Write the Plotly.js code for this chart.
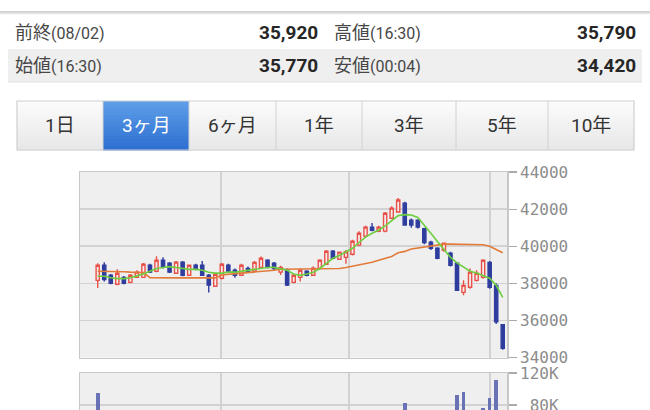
<!DOCTYPE html>
<html><head><meta charset="utf-8">
<script src="https://cdn.plot.ly/plotly-3.0.1.min.js"></script>
<style>
html,body{margin:0;padding:0;background:#fff;overflow:hidden;width:650px;height:410px}
#wrap{width:650px;height:410px;overflow:hidden;position:relative}
#chart{width:650px;height:480px}
</style>
</head><body><div id="wrap"><div id="chart"></div></div>
<script>
// ---- data (3-month daily candles, Nikkei futures) ----
const openP  = [38160,38970,38430,37950,38320,38050,38320,38320,38970,38650,39240,39080,38540,39140,38430,38970,38970,38430,37840,38270,38970,38700,38430,38800,38650,38860,39240,39080,38600,38700,38050,38320,38650,38430,38810,39030,39730,39300,39400,39570,40060,40540,41030,40800,40810,41510,41840,42320,41400,41400,40950,40220,39890,39780,39620,39080,37510,37790,38160,38320,39130,37890,35770];
const highP  = [39080,39130,38500,38760,38400,38500,38700,39100,39050,39460,39400,39150,39200,39200,39000,39050,39200,38500,38550,39100,39050,38800,39050,38900,39200,39450,39300,39150,38950,38800,38500,38800,38700,38900,39300,39800,39800,39700,39800,40350,40800,41100,41250,41100,41850,42150,42600,42400,41500,41450,41000,40300,39950,40200,39700,39150,38160,38800,38700,39300,39200,38000,35790];
const lowP   = [37750,38100,37950,37900,37950,38000,38280,38300,38550,38600,38800,38550,38500,38380,38400,38700,38400,37510,37800,38200,38550,38300,38400,38550,38600,38800,38800,38700,38450,37850,38000,38100,38380,38400,38750,39000,39300,39250,39050,39500,40000,40500,40800,40750,40750,41450,41800,41100,41000,40950,40100,39800,39300,39700,38900,37600,37350,37700,38100,38250,37700,35800,34420];
const closeP = [38970,38200,38000,38540,38000,38430,38600,39030,38600,39240,38860,38600,39140,38430,38970,38760,38430,37900,38490,39030,38600,38430,38970,38600,39130,39350,38860,38800,38860,37900,38430,38700,38430,38810,39240,39730,39350,39680,39700,40270,40700,41030,40860,41030,41780,42050,42490,41140,41140,41030,40200,39890,39350,40160,38970,37620,37890,38600,38540,39240,37790,35920,34500];
const maShort = [38380,38380,38300,38250,38250,38300,38400,38500,38650,38800,38850,38900,38850,38800,38750,38750,38700,38600,38550,38550,38600,38600,38650,38700,38750,38800,38850,38860,38800,38700,38500,38430,38500,38600,38800,39100,39350,39500,39700,39890,40200,40490,40700,40860,41100,41400,41650,41700,41680,41550,41140,40700,40250,39850,39400,39100,38860,38650,38550,38430,38270,37890,37240];
const maLong  = [38650,38650,38650,38640,38620,38600,38600,38580,38300,38290,38290,38290,38290,38290,38290,38290,38290,38290,38290,38450,38500,38520,38550,38580,38600,38620,38650,38700,38760,38760,38760,38760,38760,38760,38770,38780,38790,38800,38850,38920,39000,39030,39130,39240,39330,39450,39650,39720,39850,39900,39950,40000,40080,40110,40110,40110,40080,40080,40080,40080,40000,39820,39650];
const volume  = [95000,52000,48000,55000,50000,46000,58000,54000,49000,60000,51000,47000,56000,62000,50000,45000,53000,68000,57000,61000,52000,48000,50000,46000,55000,58000,51000,49000,47000,64000,53000,50000,46000,52000,57000,60000,55000,49000,51000,59000,62000,58000,54000,50000,63000,61000,66000,82500,60000,57000,65000,63000,59000,56000,70000,92500,96250,68000,64000,76250,88750,111250,60000];
const priceTicks = [34000,36000,38000,40000,42000,44000];
const volTicks = [80000,120000];
const volTickText = ['\u00a080K','120K'];
const headerRows = [
  ['前終','(08/02)','35,920','高値','(16:30)','35,790'],
  ['始値','(16:30)','35,770','安値','(00:04)','34,420']
];
const periodLabels = ['1日','3ヶ月','6ヶ月','1年','3年','5年','10年'];
const selectedPeriod = 1;
const monthBreaks = [18.88, 38.47, 60.06];

// ---- layout helpers ----
const W = 650, H = 480;
const X = px => px / W;
const Y = py => 1 - py / H;
const dayIdx = openP.map((_, i) => i);

function hex(c){return [parseInt(c.slice(1,3),16),parseInt(c.slice(3,5),16),parseInt(c.slice(5,7),16)];}
function mix(a,b,t){const A=hex(a),B=hex(b);return 'rgb('+A.map((v,i)=>Math.round(v+(B[i]-v)*t)).join(',')+')';}
function bands(x0,x1,y0,y1,c0,c1,n){
  const s=[];const h=(y1-y0)/n;
  for(let i=0;i<n;i++){
    s.push({type:'rect',xref:'paper',yref:'paper',x0:X(x0),x1:X(x1),y0:Y(y0+i*h),y1:Y(y0+(i+1)*h+0.5),
      fillcolor:mix(c0,c1,i/(n-1)),line:{width:0},layer:'below'});
  }
  return s;
}

const shapes = [];
shapes.push({type:'line',xref:'paper',yref:'paper',x0:0,x1:1,y0:Y(12),y1:Y(12),line:{color:'#c4c4c4',width:1.5}});
shapes.push({type:'line',xref:'paper',yref:'paper',x0:0,x1:1,y0:Y(13.5),y1:Y(13.5),line:{color:'#e6e6e6',width:1.5}});
shapes.push({type:'rect',xref:'paper',yref:'paper',x0:X(8),x1:X(642),y0:Y(82),y1:Y(49),fillcolor:'#efefef',line:{width:0},layer:'below'});
shapes.push({type:'line',xref:'paper',yref:'paper',x0:X(8),x1:X(642),y0:Y(82),y1:Y(82),line:{color:'#e0e0e0',width:1}});
const btnEdges = [17,103,189,276,362,456,548,634];
const bTop = 101, bBot = 150;
shapes.push(...bands(btnEdges[0],btnEdges[7],bTop,bBot,'#fbfbfb','#e8e8e8',14));
shapes.push(...bands(btnEdges[selectedPeriod],btnEdges[selectedPeriod+1],bTop,bBot,'#5d9de7','#2e70d2',14));
shapes.push({type:'rect',xref:'paper',yref:'paper',x0:X(btnEdges[0]),x1:X(btnEdges[7]),y0:Y(bBot),y1:Y(bTop),fillcolor:'rgba(0,0,0,0)',line:{color:'#cfcfcf',width:1.2}});
for(let i=1;i<btnEdges.length-1;i++){
  shapes.push({type:'line',xref:'paper',yref:'paper',x0:X(btnEdges[i]),x1:X(btnEdges[i]),y0:Y(bBot),y1:Y(bTop),line:{color:'#d2d2d2',width:1}});
}

const annotations = [];
const rowY = [33, 66];
const labFont = {family:"Roboto, 'Noto Sans CJK JP', sans-serif", size:18, color:'#474747'};
const numFont = {family:"Roboto, 'Noto Sans CJK JP', sans-serif", size:19, color:'#262626'};
headerRows.forEach((r,i)=>{
  annotations.push({xref:'paper',yref:'paper',x:X(13),y:Y(rowY[i]),xanchor:'left',yanchor:'middle',showarrow:false,
    text:r[0]+"<span style='font-size:16px'>"+r[1]+"</span>",font:labFont});
  annotations.push({xref:'paper',yref:'paper',x:X(320),y:Y(rowY[i]),xanchor:'right',yanchor:'middle',showarrow:false,
    text:'<b>'+r[2]+'</b>',font:numFont});
  annotations.push({xref:'paper',yref:'paper',x:X(332),y:Y(rowY[i]),xanchor:'left',yanchor:'middle',showarrow:false,
    text:r[3]+"<span style='font-size:16px'>"+r[4]+"</span>",font:labFont});
  annotations.push({xref:'paper',yref:'paper',x:X(638),y:Y(rowY[i]),xanchor:'right',yanchor:'middle',showarrow:false,
    text:'<b>'+r[5]+'</b>',font:numFont});
});
periodLabels.forEach((t,i)=>{
  annotations.push({xref:'paper',yref:'paper',x:X((btnEdges[i]+btnEdges[i+1])/2),y:Y(125.5),xanchor:'center',yanchor:'middle',showarrow:false,
    text:t,font:{family:"Roboto, 'Noto Sans CJK JP', sans-serif",size:19,color:i===selectedPeriod?'#ffffff':'#333333'}});
});

const xDom = [X(80), X(507.3)];
const xRange = [-2.71, 62.70];
const gridC = '#d2d2d2', frameC = '#c8c8c8';
const tickFont = {family:"'DejaVu Sans Mono', monospace", size:16, color:'#8c8c8c'};

const traces = [
  {type:'candlestick', x:dayIdx, open:openP, high:highP, low:lowP, close:closeP, xaxis:'x', yaxis:'y',
   increasing:{line:{color:'#e8504a',width:1.4},fillcolor:'#f6eded'},
   decreasing:{line:{color:'#2f3d9e',width:1.4},fillcolor:'#2f3d9e'},
   whiskerwidth:0, hoverinfo:'skip'},
  {type:'scatter', mode:'lines', x:dayIdx, y:maLong, xaxis:'x', yaxis:'y', line:{color:'#e27b3a',width:1.6}, hoverinfo:'skip'},
  {type:'scatter', mode:'lines', x:dayIdx, y:maShort, xaxis:'x', yaxis:'y', line:{color:'#6dcf3f',width:1.6}, hoverinfo:'skip'},
  {type:'bar', x:dayIdx, y:volume, xaxis:'x2', yaxis:'y2', marker:{color:'#6a72b6',line:{width:0}}, width:0.55, hoverinfo:'skip'}
];

const layout = {
  width:W, height:H, margin:{l:0,r:0,t:0,b:0}, paper_bgcolor:'#ffffff', plot_bgcolor:'#efefef',
  showlegend:false, bargap:0, shapes:shapes, annotations:annotations,
  xaxis:{domain:xDom, range:xRange, anchor:'y', tickmode:'array', tickvals:monthBreaks, showticklabels:false, ticks:'',
    showgrid:true, gridcolor:gridC, gridwidth:1.5, showline:true, mirror:true, linecolor:frameC, linewidth:1.5,
    zeroline:false, rangeslider:{visible:false}, fixedrange:true},
  yaxis:{domain:[Y(357.5), Y(172)], range:[34000,44000], side:'right', anchor:'x', tickmode:'array', tickvals:priceTicks,
    tickformat:'d', ticks:'outside', ticklen:8, tickcolor:'#aaaaaa', tickwidth:1.2, tickfont:tickFont,
    showgrid:true, gridcolor:gridC, gridwidth:1.5, showline:true, mirror:true, linecolor:frameC, linewidth:1.5, zeroline:false},
  xaxis2:{domain:xDom, range:xRange, anchor:'y2', tickmode:'array', tickvals:monthBreaks, showticklabels:false, ticks:'',
    showgrid:true, gridcolor:gridC, gridwidth:1.5, showline:true, mirror:true, linecolor:frameC, linewidth:1.5, zeroline:false},
  yaxis2:{domain:[Y(469), Y(373)], range:[0,120000], side:'right', anchor:'x2', tickmode:'array', tickvals:volTicks, ticktext:volTickText,
    ticks:'outside', ticklen:8, tickcolor:'#aaaaaa', tickwidth:1.2, tickfont:tickFont,
    showgrid:true, gridcolor:gridC, gridwidth:1.5, showline:true, mirror:true, linecolor:frameC, linewidth:1.5, zeroline:false}
};

Plotly.newPlot('chart', traces, layout, {staticPlot:true, displayModeBar:false});
</script>
</body></html>
